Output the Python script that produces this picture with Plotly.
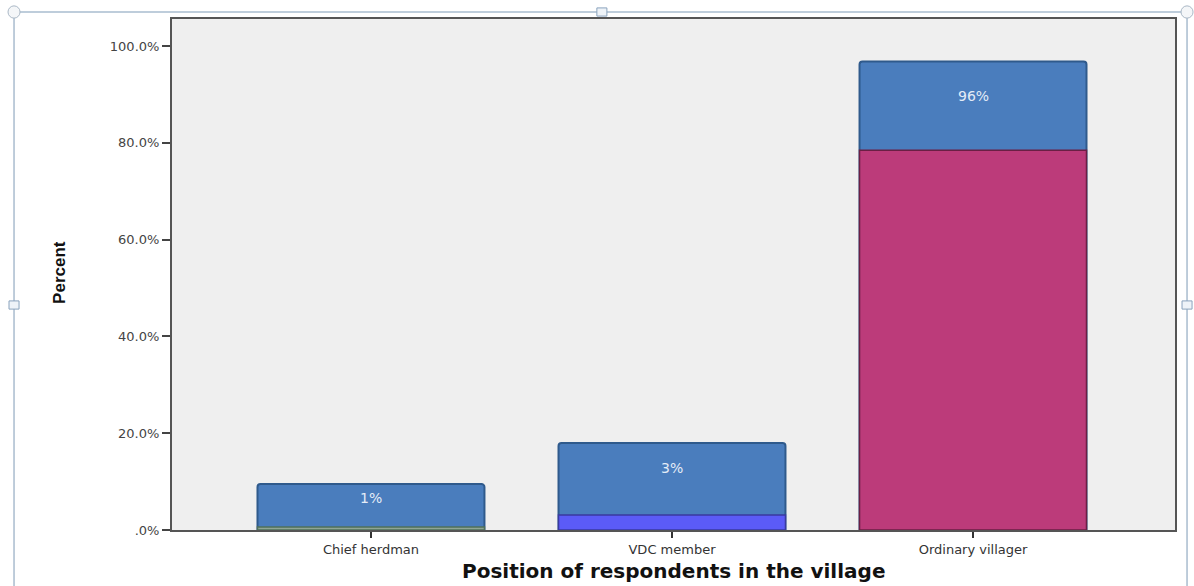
import plotly.graph_objects as go

categories = ["Chief herdman", "VDC member", "Ordinary villager"]
outer_values = [9.5, 18.0, 96.8]
inner_values = [0.6, 3.1, 78.5]
bar_labels = ["1%", "3%", "96%"]
label_offsets = [-14, -25, -34]  # px below bar top (style)
inner_colors = ["#8fa595", "#5b5bf7", "#bc3b7a"]
inner_lines = ["#50705a", "#3a3aa0", "#6a1f44"]
y_tickvals = [0, 20, 40, 60, 80, 100]
y_ticktext = [".0%", "20.0%", "40.0%", "60.0%", "80.0%", "100.0%"]
x_title = "Position of respondents in the village"
y_title = "Percent"

fig = go.Figure()
fig.add_trace(go.Bar(
    x=categories, y=outer_values, width=0.754,
    marker=dict(color="#4a7dbd", line=dict(color="#2f5a8c", width=2), cornerradius=3),
    showlegend=False, hoverinfo="skip",
))
fig.add_trace(go.Bar(
    x=categories, y=inner_values, width=0.754,
    marker=dict(color=inner_colors, line=dict(color=inner_lines, width=1.5)),
    showlegend=False, hoverinfo="skip",
))

for c, v, t, off in zip(categories, outer_values, bar_labels, label_offsets):
    fig.add_annotation(x=c, y=v, text=t, showarrow=False, yshift=off,
                       font=dict(family="DejaVu Sans", size=14, color="#e4ecf7"))

# axis titles
fig.add_annotation(xref="paper", yref="paper", x=0.5, y=-0.081, text=f"<b>{x_title}</b>",
                   showarrow=False, xanchor="center", yanchor="middle",
                   font=dict(family="DejaVu Sans", size=20, color="#111111"))
fig.add_annotation(xref="paper", yref="paper", x=-0.1117, y=0.505, text=f"<b>{y_title}</b>",
                   showarrow=False, xanchor="center", yanchor="middle", textangle=-90,
                   font=dict(family="Liberation Sans Narrow, Liberation Sans", size=17, color="#111111"))

# outer frame decoration (document selection frame)
frame_col = "#a9bccf"
fig.add_shape(type="line", xref="paper", yref="paper", x0=-0.1575, x1=-0.1575, y0=-0.11, y1=1.0137,
              line=dict(color=frame_col, width=1.5))
fig.add_shape(type="line", xref="paper", yref="paper", x0=1.012, x1=1.012, y0=-0.11, y1=1.0137,
              line=dict(color=frame_col, width=1.5))
fig.add_shape(type="line", xref="paper", yref="paper", x0=-0.1575, x1=1.012, y0=1.0137, y1=1.0137,
              line=dict(color=frame_col, width=1.5))
for hx, hy in [(-0.1575, 0.4403), (1.012, 0.4403)]:
    fig.add_shape(type="rect", xref="paper", yref="paper", x0=hx - 0.005, x1=hx + 0.005,
                  y0=hy - 0.008, y1=hy + 0.008, line=dict(color="#8aa3bd", width=1), fillcolor="#eef3f8")
fig.add_shape(type="rect", xref="paper", yref="paper", x0=0.4286 - 0.005, x1=0.4286 + 0.005,
              y0=1.0137 - 0.008, y1=1.0137 + 0.008, line=dict(color="#8aa3bd", width=1), fillcolor="#eef3f8")
for hx in [-0.1575, 1.012]:
    fig.add_shape(type="circle", xref="paper", yref="paper", x0=hx - 0.006, x1=hx + 0.006,
                  y0=1.0137 - 0.012, y1=1.0137 + 0.012, line=dict(color="#aab8c6", width=1), fillcolor="#f4f6f8")

fig.update_layout(
    width=1194, height=586,
    margin=dict(l=172, r=19, t=19, b=56),
    barmode="overlay",
    paper_bgcolor="white",
    plot_bgcolor="#efefef",
    font=dict(family="DejaVu Sans", color="#333333"),
    xaxis=dict(
        range=[-0.661, 2.671], showline=True, linecolor="#555555", linewidth=2, mirror=True,
        ticks="outside", ticklen=6, tickcolor="#333333", tickwidth=2, automargin=False,
        tickfont=dict(size=13, color="#333333"), showgrid=False,
    ),
    yaxis=dict(
        range=[0, 105.6], tickvals=y_tickvals, ticktext=y_ticktext, automargin=False,
        showline=True, linecolor="#555555", linewidth=2, mirror=True,
        ticks="outside", ticklen=8, tickcolor="#444444", tickwidth=1.5,
        tickfont=dict(size=13, color="#444444"), showgrid=False, zeroline=False,
    ),
)

fig.write_html("out.html")
